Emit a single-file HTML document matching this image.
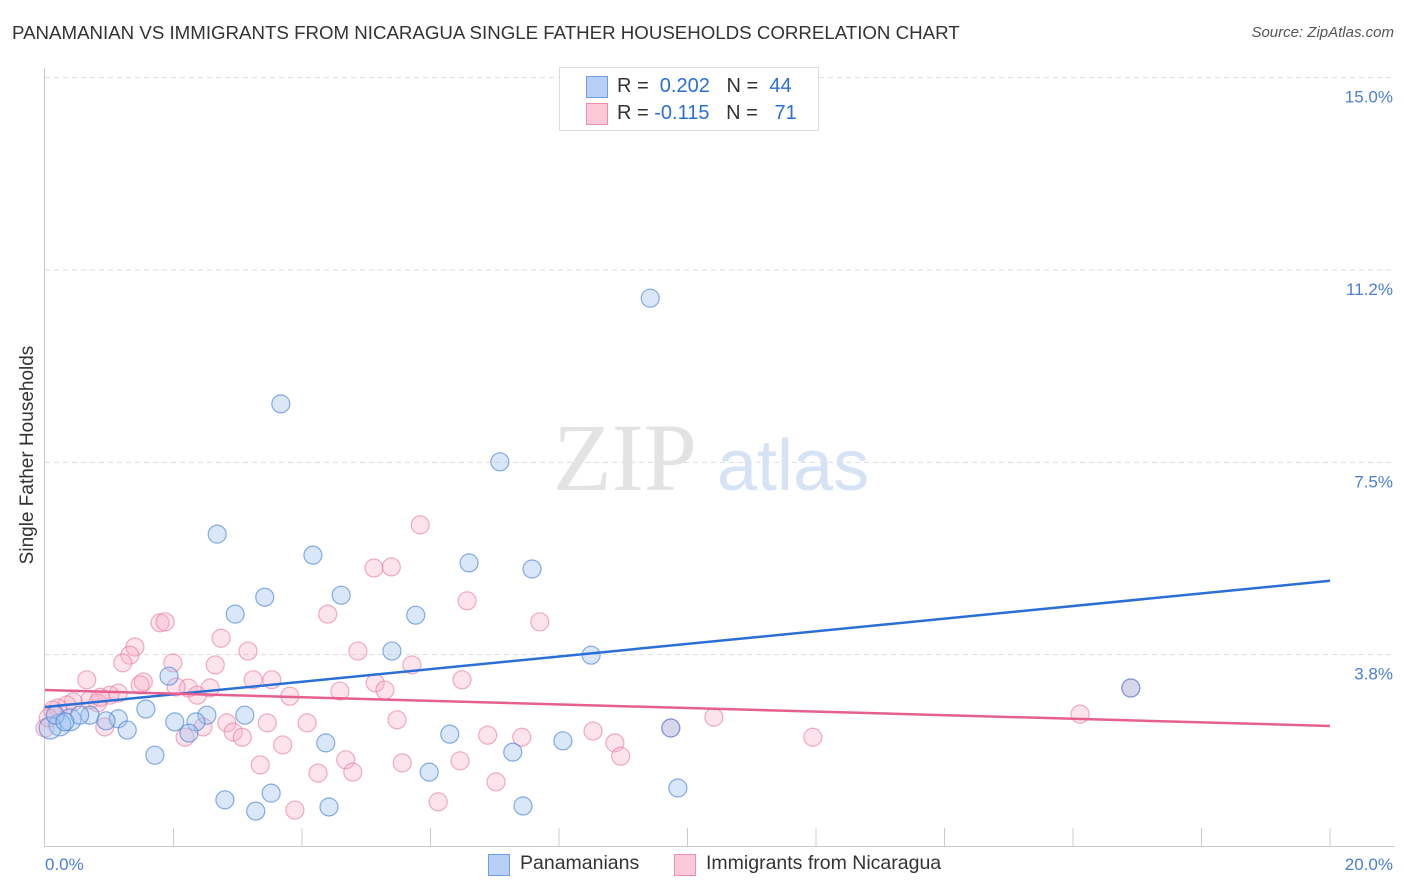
<!DOCTYPE html>
<html><head><meta charset="utf-8">
<style>
body{margin:0;background:#fff;font-family:"Liberation Sans",sans-serif;}
#wrap{position:relative;width:1406px;height:892px;overflow:hidden;}
.t{position:absolute;white-space:nowrap;}
</style></head>
<body>
<div id="wrap">
<div class="t" style="left:12px;top:22px;font-size:18.7px;color:#333;">PANAMANIAN VS IMMIGRANTS FROM NICARAGUA SINGLE FATHER HOUSEHOLDS CORRELATION CHART</div>
<div class="t" style="right:12px;top:24px;font-size:15px;color:#555;font-style:italic;">Source: ZipAtlas.com</div>
<div class="t" style="left:-92px;top:444px;font-size:19px;color:#333;transform:rotate(-90deg);transform-origin:center;width:240px;text-align:center;">Single Father Households</div>
<svg id="chart" width="1406" height="892" style="position:absolute;left:0;top:0"></svg>
</div>
<script>
const xTickLabels=["0.0%","20.0%"];
const yTickValues=[3.75,7.5,11.25,15];
const yTickLabels=["3.8%","7.5%","11.2%","15.0%"];
const blueX=[9.42,3.67,7.08,2.68,4.17,6.60,7.58,3.42,4.61,2.96,5.77,5.40,8.50,1.93,1.57,2.52,3.11,0.70,1.14,0.95,2.02,2.35,1.28,2.24,0.39,0.23,0.08,4.37,6.30,8.06,7.28,1.71,5.98,3.52,2.80,4.42,3.28,7.44,9.85,9.74,16.90,0.54,0.16,0.31];
const blueY=[10.70,8.64,7.51,6.10,5.69,5.54,5.42,4.87,4.91,4.54,4.52,3.82,3.74,3.33,2.69,2.57,2.57,2.57,2.50,2.46,2.44,2.44,2.28,2.22,2.48,2.38,2.32,2.03,2.20,2.07,1.85,1.79,1.46,1.05,0.92,0.78,0.70,0.80,1.15,2.32,3.10,2.57,2.57,2.44];
const pinkX=[5.84,5.12,5.39,6.57,4.40,7.70,1.79,1.87,1.40,1.32,1.21,0.65,1.53,1.48,1.99,2.65,2.74,3.16,3.24,3.53,3.81,4.59,4.87,2.23,2.37,2.57,2.04,1.14,1.01,0.70,0.82,0.44,0.34,0.20,0.12,0.93,2.46,2.83,2.93,3.07,3.46,4.08,3.70,2.18,3.35,4.25,4.68,4.79,3.89,5.71,5.14,5.29,6.49,5.48,5.56,6.46,6.89,7.42,7.02,6.12,8.53,8.87,8.96,10.41,11.95,16.11,16.90,9.74,0.0,0.05,0.86];
const pinkY=[6.28,5.44,5.46,4.80,4.54,4.39,4.37,4.39,3.90,3.74,3.59,3.26,3.22,3.16,3.59,3.55,4.07,3.82,3.26,3.26,2.94,3.04,3.82,3.10,2.96,3.10,3.12,3.00,2.96,2.87,2.81,2.83,2.77,2.71,2.67,2.34,2.34,2.42,2.24,2.14,2.42,2.42,1.99,2.14,1.60,1.44,1.70,1.46,0.72,3.55,3.20,3.06,3.26,2.48,1.64,1.68,2.18,2.14,1.27,0.88,2.26,2.03,1.77,2.53,2.14,2.59,3.10,2.32,2.32,2.52,2.92];
const blueTrend=[2.73,5.19];
const pinkTrend=[3.06,2.36];

const X0=45,X1=1330,Y0=847,PXPER=51.29;
const sx=v=>X0+(v/20)*(X1-X0);
const sy=v=>Y0-v*PXPER;
const svg=document.getElementById('chart');
const NS='http://www.w3.org/2000/svg';
function mk(tag,attrs){const e=document.createElementNS(NS,tag);for(const k in attrs)e.setAttribute(k,attrs[k]);svg.appendChild(e);return e;}

yTickValues.forEach((v,i)=>{
  const g=mk('line',{x1:45,x2:1395,y1:sy(v),y2:sy(v),stroke:'#ddd','stroke-dasharray':'5,4'});
  
  
  const t=mk('text',{x:1393,y:sy(v)+25,'text-anchor':'end','font-size':'17',fill:'#4a7fd6','font-family':'Liberation Sans, sans-serif'});
  t.textContent=yTickLabels[i];
  
  
});
{const a=mk('line',{x1:44.5,x2:44.5,y1:68,y2:847,stroke:'#ccc'});
const b=mk('line',{x1:45,x2:1395,y1:846.5,y2:846.5,stroke:'#ccc'});}
for(let i=1;i<=10;i++){const tk=mk('line',{x1:sx(i*2),x2:sx(i*2),y1:828,y2:846,stroke:'#ccc'});}
[[0,'start',45],[1,'end',1393]].forEach(([i,anc,x])=>{const t=mk('text',{x:x,y:870,'text-anchor':anc,'font-size':'17',fill:'#4a7fd6','font-family':'Liberation Sans, sans-serif'});t.textContent=xTickLabels[i];});
{const t=mk('text',{x:553,y:490,'font-size':'96','font-family':'Liberation Serif, serif',fill:'#e3e3e3'});t.textContent='ZIP';
const t2=mk('text',{x:717,y:490,'font-size':'72','font-family':'Liberation Sans, sans-serif',fill:'#d6e3f5'});t2.textContent='atlas';}
pinkX.forEach((x,i)=>{const c=mk('circle',{cx:sx(x),cy:sy(pinkY[i]),r:9,fill:'rgba(248,175,200,0.35)',stroke:'rgba(232,120,155,0.6)','stroke-width':1.2});});
blueX.forEach((x,i)=>{const c=mk('circle',{cx:sx(x),cy:sy(blueY[i]),r:(i>=24&&i<=26)?11:9,fill:'rgba(160,195,240,0.4)',stroke:'rgba(70,130,215,0.65)','stroke-width':1.2});});
{const l=mk('line',{x1:sx(0),y1:sy(blueTrend[0]),x2:sx(20),y2:sy(blueTrend[1]),stroke:'#2a6fd6','stroke-width':2.5});
const l2=mk('line',{x1:sx(0),y1:sy(pinkTrend[0]),x2:sx(20),y2:sy(pinkTrend[1]),stroke:'#e5608f','stroke-width':2.5});}
</script>
<div style="position:absolute;left:559px;top:67px;width:258px;height:62px;border:1px solid #ddd;background:#fff;font-size:20px;color:#333;">
 <div style="position:absolute;left:26px;top:8px;width:20px;height:20px;background:#b8d0f5;border:1px solid #6d9ee3;"></div>
 <div class="t" style="left:57px;top:7px;">R = <span style="color:#2a6fd6">&nbsp;0.202</span>&nbsp;&nbsp;&nbsp;N = <span style="color:#2a6fd6">&nbsp;44</span></div>
 <div style="position:absolute;left:26px;top:35px;width:20px;height:20px;background:#fbc9d8;border:1px solid #ec8fae;"></div>
 <div class="t" style="left:57px;top:34px;">R = <span style="color:#2a6fd6">-0.115</span>&nbsp;&nbsp;&nbsp;N = <span style="color:#2a6fd6">&nbsp;&nbsp;71</span></div>
</div>
<div style="position:absolute;left:488px;top:852px;font-size:19.5px;color:#333;">
 <div style="position:absolute;left:0;top:2px;width:20px;height:20px;background:#b8d0f5;border:1px solid #6d9ee3;"></div>
 <div class="t" style="left:32px;top:0;">Panamanians</div>
 <div style="position:absolute;left:186px;top:2px;width:20px;height:20px;background:#fbc9d8;border:1px solid #ec8fae;"></div>
 <div class="t" style="left:218px;top:0;">Immigrants from Nicaragua</div>
</div>
</body></html>
